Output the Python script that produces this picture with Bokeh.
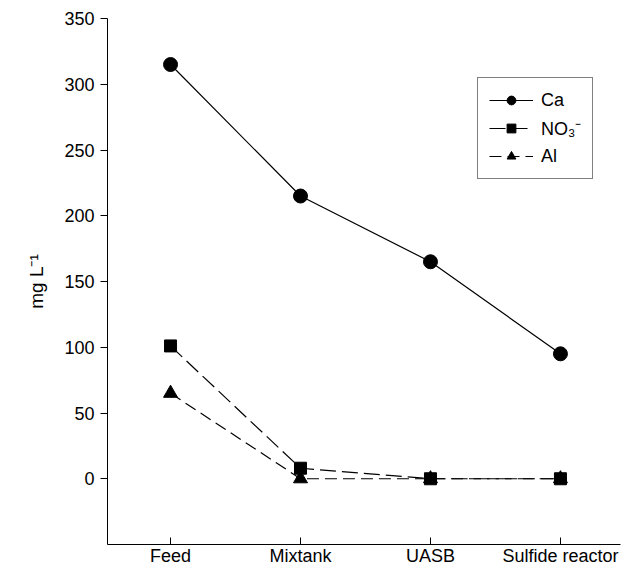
from bokeh.plotting import figure
from bokeh.models import Range1d, FixedTicker, Legend, LegendItem
from bokeh.embed import file_html
from bokeh.resources import INLINE

categories = ["Feed", "Mixtank", "UASB", "Sulfide reactor"]
ca = [315, 215, 165, 95]
no3 = [101, 8, 0, 0]
al = [65, 0, 0, 0]
y_ticks = [0, 50, 100, 150, 200, 250, 300, 350]

x = list(range(len(categories)))
FONT = "Liberation Sans"

p = figure(width=627, height=568, output_backend="svg", toolbar_location=None,
           x_range=Range1d(-0.485, 3.462), y_range=Range1d(-50, 350),
           min_border_left=107, min_border_top=18, min_border_right=7, min_border_bottom=18)
p.outline_line_color = None
p.xgrid.visible = False
p.ygrid.visible = False

r_ca_l = p.line(x, ca, line_color="black", line_width=1.2)
r_ca_m = p.scatter(x, ca, marker="circle", size=14, fill_color="black", line_color="black")
r_no_l = p.line(x, no3, line_color="black", line_width=1.2, line_dash="16 6")
r_no_m = p.scatter(x, no3, marker="square", size=12, fill_color="black", line_color="black")
r_al_l = p.line(x, al, line_color="black", line_width=1.2, line_dash="12 6")
r_al_m = p.scatter(x, al, marker="triangle", size=14, fill_color="black", line_color="black")

legend = Legend(items=[
    LegendItem(label="Ca", renderers=[r_ca_l, r_ca_m]),
    LegendItem(label="NO₃⁻", renderers=[r_no_l, r_no_m]),
    LegendItem(label="Al", renderers=[r_al_l, r_al_m]),
], location=(370, 365))
legend.border_line_color = "black"
legend.border_line_width = 1.2
legend.background_fill_alpha = 1
legend.label_text_font = FONT
legend.label_text_font_size = "18px"
legend.label_text_color = "black"
legend.glyph_width = 44
legend.glyph_height = 22
legend.label_height = 22
legend.label_standoff = 8
legend.padding = 11
legend.spacing = 5
legend.margin = 0
p.add_layout(legend)

xa = p.xaxis[0]
xa.ticker = FixedTicker(ticks=x)
xa.major_label_overrides = {i: c for i, c in enumerate(categories)}
xa.major_tick_in = 7
xa.major_tick_out = 0
xa.minor_tick_line_color = None
xa.major_label_text_font = FONT
xa.major_label_text_font_size = "18px"
xa.major_label_text_color = "black"
xa.axis_line_color = "black"
xa.major_tick_line_color = "black"
xa.major_label_standoff = 1

ya = p.yaxis[0]
ya.ticker = FixedTicker(ticks=y_ticks)
ya.major_tick_in = 0
ya.major_tick_out = 7
ya.minor_tick_line_color = None
ya.major_label_text_font = FONT
ya.major_label_text_font_size = "18px"
ya.major_label_text_color = "black"
ya.axis_line_color = "black"
ya.major_tick_line_color = "black"
ya.major_label_standoff = 6
ya.axis_label = "mg L⁻¹"
ya.axis_label_text_font = FONT
ya.axis_label_text_font_style = "normal"
ya.axis_label_text_font_size = "19px"
ya.axis_label_text_color = "black"
ya.axis_label_standoff = 14

open("out.html", "w").write(file_html(p, INLINE))
